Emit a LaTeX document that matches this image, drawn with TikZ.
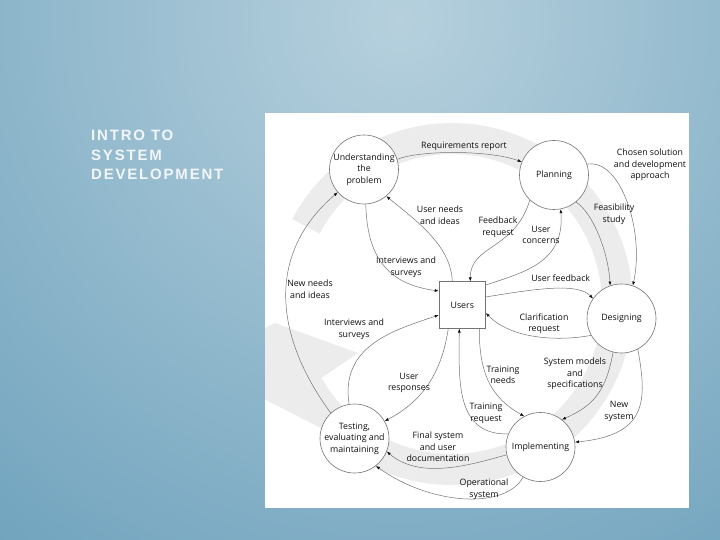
\documentclass[tikz,border=0pt]{standalone}
\usepackage{fontspec}
\setmainfont{Open Sans}
\newfontfamily\titlefont[LetterSpace=12]{Liberation Sans}
\usetikzlibrary{arrows.meta}

\definecolor{bgLight}{RGB}{182,208,221}
\definecolor{bgDark}{RGB}{82,144,176}
\definecolor{bandGray}{RGB}{236,236,236}
\definecolor{lineGray}{RGB}{115,115,115}
\definecolor{inkDark}{RGB}{15,15,15}
\definecolor{titleWhite}{RGB}{242,246,248}
\newcommand\diagfont{\fontsize{8.8}{11.6}\selectfont}

\begin{document}
\begin{tikzpicture}[x=1pt,y=-1pt,
    phase/.style={circle, draw=lineGray, line width=0.6pt, fill=white,
        minimum size=69pt, inner sep=0pt, align=center, font=\diagfont, text=inkDark},
    usersbox/.style={rectangle, draw=lineGray, line width=0.6pt, fill=white,
        minimum size=46.5pt, inner sep=0pt, font=\diagfont, text=inkDark},
    lbl/.style={align=center, inner sep=0pt, font=\diagfont, text=inkDark},
    flow/.style={draw=lineGray, line width=0.5pt, -{Latex[length=4pt,width=3pt,color=inkDark]}}]
    \useasboundingbox (0,0) rectangle (720,540);

    % Slide background
    \begin{scope}
        \clip (0,0) rectangle (720,540);
        \shade[inner color=bgLight, outer color=bgDark] (400,20) circle (960);
    \end{scope}
    \node[anchor=north west, align=left, inner sep=0pt, text=titleWhite,
        font=\titlefont\bfseries\fontsize{15}{19.5}\selectfont] (title) at (91,130)
        {INTRO TO\\SYSTEM\\DEVELOPMENT};

    % Figure panel
    \fill[white] (265,113) rectangle (689,508);

    % Cycle band
    \begin{scope}
        \clip (265,113) rectangle (689,508);
        \fill[bandGray] plot[domain=208:497, samples=80] ({452+181*cos(\x)},{304+181*sin(\x)})
            -- (262,398) -- (230,345) -- (275,323) -- (358,353)
            -- plot[domain=510.5:208, samples=80] ({452+150*cos(\x)},{304+150*sin(\x)}) -- cycle;
    \end{scope}

    % Phases
    \node[phase] (und) at (364,169.5) {Understanding\\the\\problem};
    \node[phase] (plan) at (554,175) {Planning};
    \node[phase] (des) at (621.5,318.5) {Designing};
    \node[phase] (impl) at (540.5,447) {Implementing};
    \node[phase] (test) at (354.5,438.5) {Testing,\\evaluating and\\maintaining};
    \node[usersbox] (users) at (462.3,305) {Users};

    % Flows between phases
    \draw[flow] (und.17) .. controls (420,150) and (490,150) .. (plan.158);
    \draw[flow] (plan.18) .. controls (620,158) and (645,230) .. (des.71);
    \draw[flow] (plan.-51) .. controls (592,212) and (608,250) .. (des.109);
    \draw[flow] (des.-104) .. controls (606,390) and (595,405) .. (impl.52);
    \draw[flow] (des.-62) .. controls (647,400) and (648,435) .. (impl.8);
    \draw[flow] (impl.-167) .. controls (470,465) and (420,480) .. (test.-22);
    \draw[flow] (impl.-120) .. controls (505,510) and (430,505) .. (test.-52);
    \draw[flow] (test.133) .. controls (270,330) and (270,250) .. (und.-139);

    % Flows with users
    \draw[flow] ([xshift=-10pt]users.north) .. controls (451,245) and (415,220) .. (und.-50);
    \draw[flow] (und.-87) .. controls (367,265) and (395,285) .. ([yshift=14pt]users.west);
    \draw[flow] (plan.-134) .. controls (515,250) and (470,245) .. ([xshift=8pt]users.north);
    \draw[flow] ([yshift=20pt]users.east) .. controls (525,272) and (565,262) .. (plan.-79);
    \draw[flow] ([yshift=8pt]users.east) .. controls (540,288) and (578,283) .. (des.145);
    \draw[flow] (des.-151) .. controls (555,342) and (510,338) .. ([yshift=-8pt]users.east);
    \draw[flow] (test.99) .. controls (340,345) and (395,330) .. ([yshift=-10pt]users.west);
    \draw[flow] ([xshift=-14pt]users.south) .. controls (442,370) and (425,400) .. (test.30);
    \draw[flow] ([xshift=17pt]users.south) .. controls (479,375) and (492,398) .. (impl.118);
    \draw[flow] (impl.158) .. controls (455,435) and (459,380) .. ([xshift=-3pt]users.south);

    % Labels
    \node[lbl] (reqLbl) at (464,146) {Requirements report};
    \node[lbl] (chosenLbl) at (650,165) {Chosen solution\\and development\\approach};
    \node[lbl] (feasLbl) at (614,214.5) {Feasibility\\study};
    \node[lbl] (fbReqLbl) at (498,227) {Feedback\\request};
    \node[lbl] (concLbl) at (541,235) {User\\concerns};
    \node[lbl] (needsLbl) at (440,215.5) {User needs\\and ideas};
    \node[lbl] (intUpLbl) at (406,267.5) {Interviews and\\surveys};
    \node[lbl] (newNeedsLbl) at (310,289) {New needs\\and ideas};
    \node[lbl] (ufbLbl) at (560.7,278) {User feedback};
    \node[lbl] (clarLbl) at (544,323.5) {Clarification\\request};
    \node[lbl] (intLowLbl) at (354,329.5) {Interviews and\\surveys};
    \node[lbl] (respLbl) at (409,383) {User\\responses};
    \node[lbl] (trNeedsLbl) at (503,375) {Training\\needs};
    \node[lbl] (modelsLbl) at (575,374) {System models\\and\\specifications};
    \node[lbl] (trReqLbl) at (486,413.5) {Training\\request};
    \node[lbl] (newSysLbl) at (619,411.7) {New\\system};
    \node[lbl] (finalLbl) at (438,447) {Final system\\and user\\documentation};
    \node[lbl] (opLbl) at (484,489) {Operational\\system};
\end{tikzpicture}
\end{document}
